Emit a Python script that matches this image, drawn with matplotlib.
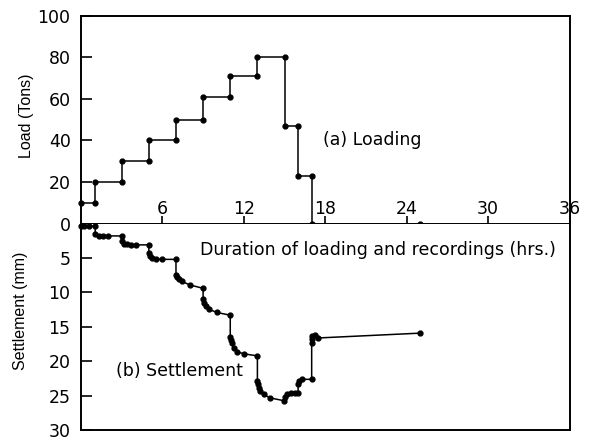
import matplotlib
matplotlib.use("Agg")
import matplotlib.pyplot as plt

plt.rcParams['font.family'] = ['DejaVu Sans']

# loading history (hrs, tons)
load_t = [0, 1.05, 1.05, 3.0, 3.0, 5.0, 5.0, 7.0, 7.0, 9.0, 9.0, 11.0, 11.0,
          13.0, 13.0, 15.0, 15.0, 16.0, 16.0, 17.0, 17.0, 25.0]
load_v = [10, 10, 20, 20, 30, 30, 40, 40, 50, 50, 61, 61, 71,
          71, 80, 80, 47, 47, 23, 23, 0, 0]

# settlement history (hrs, mm)
sett_t = [0, 0.2, 0.6, 1.05,
          1.05, 1.3, 1.6, 2.0, 3.0,
          3.05, 3.15, 3.4, 3.7, 4.05, 5.0,
          5.0, 5.1, 5.25, 5.5, 6.0, 7.0,
          7.0, 7.08, 7.2, 7.45, 8.0, 9.0,
          9.0, 9.1, 9.2, 9.4, 10.0, 11.0,
          11.0, 11.05, 11.1, 11.25, 11.5, 12.0, 13.0,
          13.0, 13.05, 13.1, 13.2, 13.45, 13.95, 14.95,
          15.05, 15.2, 15.45, 15.8, 16.0,
          16.0, 16.05, 16.3, 17.0,
          17.0, 17.0, 17.05, 17.25, 17.5,
          25.0]
sett_v = [0.4, 0.4, 0.4, 0.4,
          1.5, 1.75, 1.8, 1.8, 1.8,
          2.6, 2.9, 3.0, 3.1, 3.1, 3.1,
          4.3, 4.7, 5.0, 5.15, 5.2, 5.2,
          7.5, 7.8, 8.1, 8.4, 8.9, 9.4,
          11.0, 11.5, 11.9, 12.4, 12.9, 13.3,
          16.5, 16.9, 17.4, 18.0, 18.6, 18.9, 19.2,
          22.8, 23.3, 23.8, 24.3, 24.8, 25.3, 25.7,
          25.2, 24.7, 24.6, 24.6, 24.6,
          23.3, 22.9, 22.6, 22.6,
          17.3, 16.8, 16.3, 16.2, 16.6,
          15.9]

x_ticks = [6, 12, 18, 24, 30, 36]
load_ticks = [0, 20, 40, 60, 80, 100]
sett_ticks = [5, 10, 15, 20, 25, 30]

fs = 12.5
lab_font = ['Liberation Sans', 'DejaVu Sans']

fig = plt.figure(figsize=(5.89, 4.38), dpi=100)
ax1 = fig.add_axes([0.1375, 0.4897, 0.8294, 0.4749])
ax2 = fig.add_axes([0.1375, 0.0175, 0.8294, 0.4722])

ax1.plot(load_t, load_v, color="black", lw=1.1, marker="o", ms=3.5, clip_on=False)
ax2.plot(sett_t, sett_v, color="black", lw=1.1, marker="o", ms=3.5, clip_on=False)

ax1.set_xlim(0, 36)
ax1.set_ylim(0, 100)
ax2.set_xlim(0, 36)
ax2.set_ylim(30, 0)

for ax in (ax1, ax2):
    for s in ax.spines.values():
        s.set_linewidth(1.4)

ax1.set_xticks(x_ticks)
ax1.set_yticks(load_ticks)
ax1.tick_params(axis="x", direction="in", length=6, width=1.2, pad=-17, labelsize=fs)
ax1.tick_params(axis="y", direction="in", length=8, width=1.2, pad=7.5, labelsize=fs)

ax2.set_xticks([])
ax2.set_yticks(sett_ticks)
ax2.tick_params(axis="y", direction="in", length=8, width=1.2, pad=7.5, labelsize=fs)
ax2.spines["top"].set_visible(False)

ax1.set_ylabel("Load (Tons)", fontsize=11.5, family=lab_font)
ax1.yaxis.set_label_coords(-0.097, 0.52)
ax2.set_ylabel("Settlement (mm)", fontsize=11.5, family=lab_font)
ax2.yaxis.set_label_coords(-0.108, 0.58)

ax1.text(17.8, 40, "(a) Loading", fontsize=fs, va="center")
ax2.text(8.75, 3.8, "Duration of loading and recordings (hrs.)", fontsize=fs, va="center")
ax2.text(2.6, 21.4, "(b) Settlement", fontsize=fs, va="center")

fig.savefig("out.png", dpi=100)
